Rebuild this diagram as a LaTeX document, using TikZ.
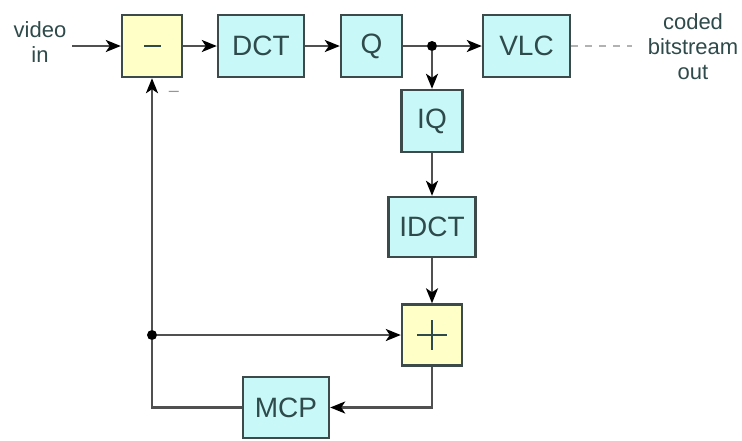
\documentclass[tikz,border=0pt]{standalone}
\usepackage{fontspec}
\setmainfont{Liberation Sans}
\usetikzlibrary{arrows.meta}
\definecolor{boxcyan}{HTML}{C8F8F8}
\definecolor{boxyellow}{HTML}{FFFFC8}
\definecolor{boxline}{HTML}{3C4A4A}
\definecolor{wire}{HTML}{505050}
\definecolor{txt}{HTML}{2E4A4A}
\tikzset{
  blk/.style={draw=boxline, line width=2.4pt, minimum height=62pt, inner sep=0pt, text=txt, font=\fontsize{28}{28}\selectfont},
  cy/.style={blk, fill=boxcyan},
  ye/.style={blk, fill=boxyellow},
  wirel/.style={draw=wire, line width=2.4pt},
  arr/.style={wirel, -{Stealth[length=15pt, width=12pt, inset=4pt, color=black]}},
  dot/.style={circle, fill=black, inner sep=0pt, minimum size=10pt},
  lbl/.style={text=txt, align=center, font=\fontsize{22}{25}\selectfont},
}
\begin{document}
\begin{tikzpicture}[x=1pt, y=-1pt]
\useasboundingbox (0,0) rectangle (742,440);
% blocks
\node[ye, minimum width=60pt] (minus) at (152,46) {};
\draw[line width=2.4pt, txt] (144,46) -- (161,46);
\node[cy, minimum width=86pt] (dct) at (261,46) {DCT};
\node[cy, minimum width=61pt] (q) at (371.5,46) {Q};
\node[cy, minimum width=87pt] (vlc) at (526.5,46) {VLC};
\node[cy, minimum width=61pt] (iq) at (432,121) {IQ};
\node[cy, minimum width=87pt, minimum height=60pt] (idct) at (432,227) {IDCT};
\node[ye, minimum width=60pt, minimum height=61pt] (plus) at (432,335) {};
\draw[line width=2.4pt, txt] (417,335) -- (447,335) (432,320) -- (432,350);
\node[cy, minimum width=86pt, minimum height=61pt] (mcp) at (286,407.5) {MCP};
% labels
\node[lbl] (vin) at (40,42) {video\\in};
\node[lbl] (out) at (693,47) {coded\\bitstream\\out};
\node[text=wire!60, font=\fontsize{18}{18}\selectfont] (neg) at (174,94) {–};
% coordinates
\coordinate (vstart) at (72,46);
\node[dot] (j1) at (432,46) {};
\node[dot] (j2) at (152,335) {};
\coordinate (pc) at (432,407.5);
\coordinate (lc) at (152,407.5);
\coordinate (dend) at (632,46);
% connectors
\draw[arr] (vstart) -- (minus.west);
\draw[arr] (minus.east) -- (dct.west);
\draw[arr] (dct.east) -- (q.west);
\draw[wirel] (q.east) -- (j1);
\draw[arr] (j1) -- (vlc.west);
\draw[arr] (j1) -- (iq.north);
\draw[arr] (iq.south) -- (idct.north);
\draw[arr] (idct.south) -- (plus.north);
\draw[arr] (plus.south) -- (pc) -- (mcp.east);
\draw[wirel] (mcp.west) -- (lc) -- (j2);
\draw[arr] (j2) -- (minus.south);
\draw[arr] (j2) -- (plus.west);
\draw[draw=gray!60, line width=2.4pt, dash pattern=on 7pt off 7pt] (vlc.east) -- (dend);
\end{tikzpicture}
\end{document}
